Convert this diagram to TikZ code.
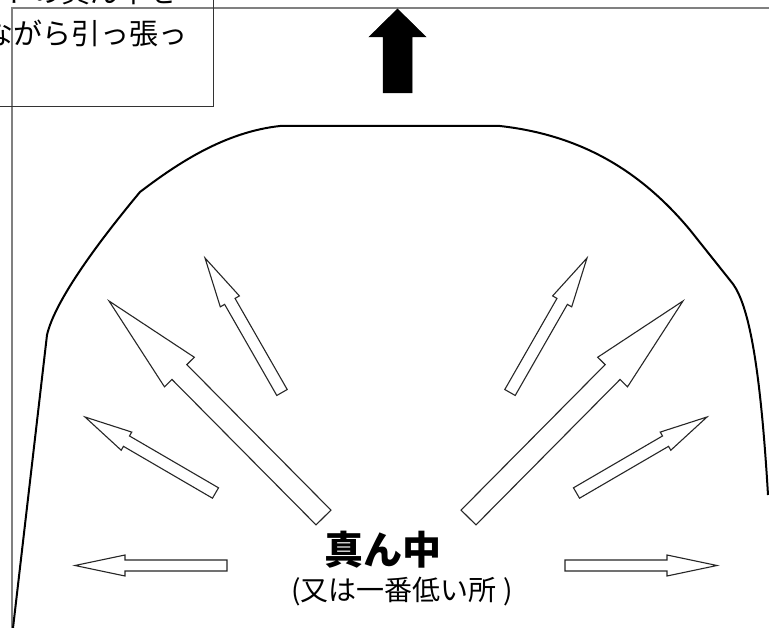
\documentclass[tikz,border=0pt]{standalone}
\usepackage{fontspec}
\setmainfont{Noto Sans CJK JP}
\usetikzlibrary{calc}
\tikzset{
  frameline/.style={draw=black!50, line width=1.3pt},
  boxline/.style={draw=black!80, line width=1pt},
  outline/.style={draw=black, line width=2pt, line join=round},
  hollowarr/.style={draw=black!85, line width=1.1pt, fill=white, line join=miter},
  bigarr/.style={fill=black, draw=black, line width=0.5pt},
  jptext/.style={inner sep=0pt, anchor=base west, font=\fontsize{29}{31}\selectfont}
}
\newcommand{\harrow}[5]{%
  \coordinate (hT) at #1; \coordinate (hP) at #2;
  \coordinate (hN) at ($(hP)!#5pt!(hT)$);
  \draw[hollowarr] ($(hT)!#3pt!90:(hP)$) -- ($(hN)!#3pt!90:(hP)$) -- ($(hN)!#4pt!90:(hP)$) -- (hP)
    -- ($(hN)!#4pt!-90:(hP)$) -- ($(hN)!#3pt!-90:(hP)$) -- ($(hT)!#3pt!-90:(hP)$) -- cycle;}
\begin{document}
\begin{tikzpicture}[x=1pt, y=-1pt]
\useasboundingbox (0,0) rectangle (769,628);
\fill[white] (0,0) rectangle (769,628);
\clip (0,0) rectangle (769,628);
% frame lines
\draw[frameline] (12,628) -- (12,8) -- (769,8);
% text box
\draw[boxline] (0,107) -- (213,107) -- (213,0);
\node[jptext] (line1) at (3,3) {トの真ん中を};
\node[jptext] (line2) at (-16,45) {ながら引っ張っ};
% big black arrow
\filldraw[bigarr] (397.5,9) -- (426,37) -- (412,37) -- (412,93) -- (383,93) -- (383,37) -- (369,37) -- cycle;
% outline
\draw[outline] (13,628) -- (47,335) .. controls (55,300) and (100,240) .. (140,192)
  .. controls (178,163) and (225,132) .. (280,126) -- (500,126)
  .. controls (580,135) and (640,170) .. (690,230) -- (733,284)
  .. controls (748,305) and (760,360) .. (768,495);
% hollow arrows, left
\harrow{(323.5,517.5)}{(109,301)}{10.5}{21}{100}
\harrow{(282,392.5)}{(205,258)}{6}{11}{50}
\harrow{(215.5,493)}{(85,417)}{6}{10.5}{48}
\harrow{(227,565.5)}{(75,565.5)}{5.5}{10.5}{50}
% hollow arrows, right
\harrow{(468.5,517.5)}{(683,301)}{10.5}{21}{100}
\harrow{(510,392.5)}{(587,258)}{6}{11}{50}
\harrow{(576.5,493)}{(707,417)}{6}{10.5}{48}
\harrow{(565,565.5)}{(717,565.5)}{5.5}{10.5}{50}
% labels
\node[inner sep=0pt, anchor=base, font=\fontsize{39}{41}\selectfont\bfseries] (center) at (383,564) {真ん中};
\node[inner sep=0pt, anchor=base, font=\fontsize{28}{30}\selectfont] (sub) at (402,600) {(又は一番低い所 )};
\end{tikzpicture}
\end{document}
